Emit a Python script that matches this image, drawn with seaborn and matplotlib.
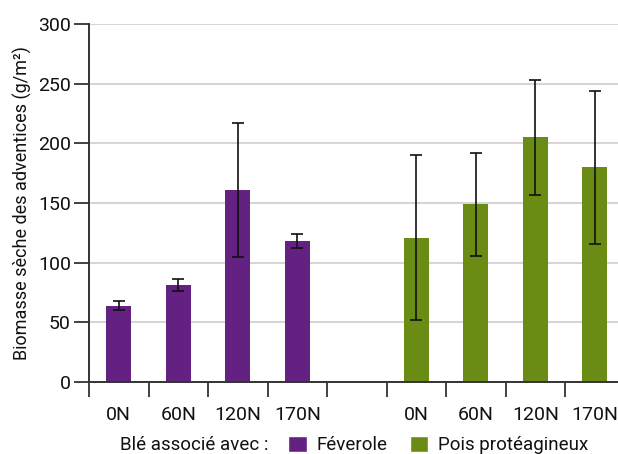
import matplotlib
matplotlib.use("Agg")
import matplotlib.pyplot as plt
import seaborn as sns
import pandas as pd
import numpy as np
from matplotlib.patches import Patch

# ---- data ----
doses = ["0N", "60N", "120N", "170N"]
groups = ["Féverole", "Pois protéagineux"]
feverole_vals = [64, 81, 161, 118]
feverole_err = [4, 5, 56, 6]
pois_vals = [121, 149, 205, 180]
pois_err = [69, 43, 48, 64]
colors = {"Féverole": "#632282", "Pois protéagineux": "#6a8c15"}
yticks = [0, 50, 100, 150, 200, 250, 300]
ylabel = "Biomasse sèche des adventices (g/m²)"
legend_title = "Blé associé avec :"

sns.set_theme(style="white")
plt.rcParams["font.family"] = ["Roboto", "DejaVu Sans"]
txt = "#111111"

slots = [f"F{d}" for d in doses] + ["gap"] + [f"P{d}" for d in doses]
df = pd.DataFrame({
    "slot": [f"F{d}" for d in doses] + [f"P{d}" for d in doses],
    "value": feverole_vals + pois_vals,
    "err": feverole_err + pois_err,
    "group": [groups[0]] * 4 + [groups[1]] * 4,
})

fig = plt.figure(figsize=(6.18, 4.54), dpi=100)
ax = fig.add_axes([89 / 618, 1 - 382 / 454, 1 - 89 / 618, (382 - 24) / 454])

sns.barplot(data=df, x="slot", y="value", hue="group", order=slots,
            palette=colors, dodge=False, width=0.42, ax=ax, legend=False,
            saturation=1, linewidth=0, zorder=2)

pos = [slots.index(s) for s in df["slot"]]
ax.errorbar(pos, df["value"], yerr=df["err"], fmt="none", ecolor="#111111",
            elinewidth=1.2, capsize=4.5, capthick=1.2, zorder=3)

ax.set_xlim(-0.5, 8.39)
ax.set_ylim(0, 300)
ax.set_yticks(yticks)
ax.yaxis.grid(True, color="#d6d6d6", linewidth=1.5, zorder=0)
ax.set_axisbelow(True)

ax.set_xticks(range(len(slots)))
ax.set_xticklabels([s[1:] if s != "gap" else "" for s in slots])
ax.set_xticks([i - 0.5 for i in range(len(slots))], minor=True)
ax.tick_params(axis="x", which="major", bottom=True, length=0, pad=17, labelsize=14,
               labelcolor=txt)
ax.tick_params(axis="x", which="minor", bottom=True, length=11, width=1.3,
               color="#333333", direction="out")
ax.tick_params(axis="y", which="major", left=True, length=11, width=1.3, color="#333333",
               direction="out", labelsize=14, labelcolor=txt, pad=2)

for s in ["top", "right"]:
    ax.spines[s].set_visible(False)
for s in ["left", "bottom"]:
    ax.spines[s].set_color("#333333")
    ax.spines[s].set_linewidth(1.4)

ax.set_xlabel("")
ax.set_ylabel(ylabel, fontsize=13, color=txt, labelpad=4)

handles = [Patch(facecolor=colors[g], label=g) for g in groups]
fig.text(268 / 618, 1 - 445 / 454, legend_title, ha="right", va="center",
         fontsize=13.5, color=txt)
leg = fig.legend(handles=handles, loc="center left",
                 bbox_to_anchor=(288 / 618, 1 - 445 / 454), ncol=2, frameon=False,
                 fontsize=13.5, handlelength=1.0, handleheight=1.0,
                 handletextpad=0.5, columnspacing=1.2, borderpad=0, borderaxespad=0)
for t in leg.get_texts():
    t.set_color(txt)

fig.savefig("out.png", dpi=100)
